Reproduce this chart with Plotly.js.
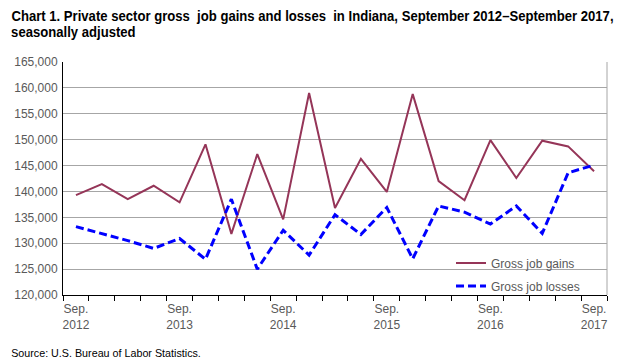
<!DOCTYPE html>
<html>
<head>
<meta charset="utf-8">
<script src="https://cdn.plot.ly/plotly-3.0.1.min.js"></script>
<style>html,body{margin:0;padding:0;background:#fff;}#chart{width:622px;height:364px;}</style>
</head>
<body>
<div id="chart"></div>
<script>
const quarters = ["Sep 2012","Dec 2012","Mar 2013","Jun 2013","Sep 2013","Dec 2013","Mar 2014","Jun 2014","Sep 2014","Dec 2014","Mar 2015","Jun 2015","Sep 2015","Dec 2015","Mar 2016","Jun 2016","Sep 2016","Dec 2016","Mar 2017","Jun 2017","Sep 2017"];
const grossJobGains = [139300,141400,138500,141100,137900,149100,131800,147200,134600,159000,136800,146300,139900,158800,142000,138300,149900,142600,149800,148700,143900];
const grossJobLosses = [133200,131900,130500,129000,130900,126900,138500,125000,132500,127700,135500,131700,136900,127000,137200,136000,133700,137200,131900,143600,145100];
const tickIdx = [0,4,8,12,16,20];
const tickLabels = ["Sep.<br>2012","Sep.<br>2013","Sep.<br>2014","Sep.<br>2015","Sep.<br>2016","Sep.<br>2017"];
const yTicks = [120000,125000,130000,135000,140000,145000,150000,155000,160000,165000];
const titleLine1 = "Chart 1. Private sector gross  job gains and losses  in Indiana, September 2012\u2013September 2017,";
const titleLine2 = "seasonally adjusted";
const sourceText = "Source: U.S. Bureau of Labor Statistics.";

const idx = quarters.map((q,i)=>i);
const boundaries = quarters.concat(["end"]).map((q,i)=>i-0.5);

const sans = '"Liberation Sans", Arial, sans-serif';

const traces = [
  {x: idx, y: grossJobGains, name: "Gross job gains", type: "scatter", mode: "lines",
   line: {color: "#953558", width: 2}, legendgroup: "a", hoverinfo: "skip", text: quarters},
  {x: idx, y: grossJobLosses, name: "Gross job losses", type: "scatter", mode: "lines",
   line: {color: "#0000FF", width: 3, dash: "8px,4px"}, legendgroup: "b", hoverinfo: "skip", text: quarters},
  {x: boundaries, y: boundaries.map(()=>null), xaxis: "x2", showlegend: false, hoverinfo: "skip", mode: "lines"}
];

const PH = 233; // plot height in px, for paper conversions
const py = (px) => (295 - px) / PH;
const pxx = (px) => (px - 63) / 544;

const layout = {
  width: 622, height: 364,
  margin: {l: 63, r: 15, t: 62, b: 69},
  paper_bgcolor: "#fff", plot_bgcolor: "#fff",
  xaxis: {
    range: [-0.5, 20.5], tickmode: "array", tickvals: tickIdx, ticktext: tickLabels,
    ticks: "", showgrid: false, zeroline: false,
    showline: true, linecolor: "#000", linewidth: 1, ticklabelstandoff: 3,
    tickfont: {family: sans, size: 12, color: "#595959"}
  },
  xaxis2: {
    overlaying: "x", anchor: "y", side: "bottom", range: [-0.5, 20.5],
    tickmode: "array", tickvals: boundaries, ticks: "outside", ticklen: 5, tickcolor: "#000",
    showticklabels: false, showgrid: false, zeroline: false, showline: false
  },
  yaxis: {
    range: [120000, 165000], tickmode: "array", tickvals: yTicks,
    tickformat: ",d", showgrid: true, gridcolor: "#A6A6A6", gridwidth: 1,
    zeroline: false, showline: true, linecolor: "#000", linewidth: 1, ticks: "",
    tickfont: {family: sans, size: 12, color: "#595959"}, ticklabelstandoff: 2
  },
  shapes: [
    {type: "line", xref: "paper", yref: "paper", x0: 1, x1: 1, y0: 0, y1: 1, line: {color: "#A6A6A6", width: 1}}
  ],
  legend: {
    x: pxx(451), xanchor: "left", y: 0.2, yanchor: "top",
    bgcolor: "rgba(0,0,0,0)", font: {family: sans, size: 12, color: "#595959"},
    traceorder: "grouped", tracegroupgap: 4
  },
  annotations: [
    {text: "<b>" + titleLine1 + "</b>", name: "t1", xref: "paper", yref: "paper", x: pxx(9), xanchor: "left",
     y: py(16), yanchor: "middle", showarrow: false, font: {family: sans, size: 14, color: "#000"}},
    {text: "<b>" + titleLine2 + "</b>", name: "t2", xref: "paper", yref: "paper", x: pxx(9), xanchor: "left",
     y: py(32), yanchor: "middle", showarrow: false, font: {family: sans, size: 14, color: "#000"}},
    {text: sourceText, name: "src", xref: "paper", yref: "paper",
     x: pxx(9), xanchor: "left", y: py(353), yanchor: "middle", showarrow: false,
     font: {family: sans, size: 11, color: "#000"}}
  ],
  showlegend: true
};

Plotly.newPlot("chart", traces, layout, {staticPlot: true, displayModeBar: false}).then(function(gd){
  const texts = gd.querySelectorAll('.annotation-text');
  let titleScale = null;
  const items = [];
  texts.forEach(function(t){
    const s = t.textContent;
    if (s.indexOf("Chart 1.") === 0) { const bb = t.getBBox(); titleScale = 603 / bb.width; items.push([t, "title"]); }
    else if (s.indexOf("seasonally") === 0) items.push([t, "title"]);
    else if (s.indexOf("Source") === 0) items.push([t, "src"]);
  });
  items.forEach(function(it){
    const t = it[0];
    const bb = t.getBBox();
    const sc = it[1] === "title" ? (titleScale || 0.82) : Math.min(1, 190 / bb.width);
    const x0 = bb.x;
    t.setAttribute("transform", "translate(" + x0 + ",0) scale(" + sc + ",1) translate(" + (-x0) + ",0)");
  });
});
</script>
</body>
</html>
